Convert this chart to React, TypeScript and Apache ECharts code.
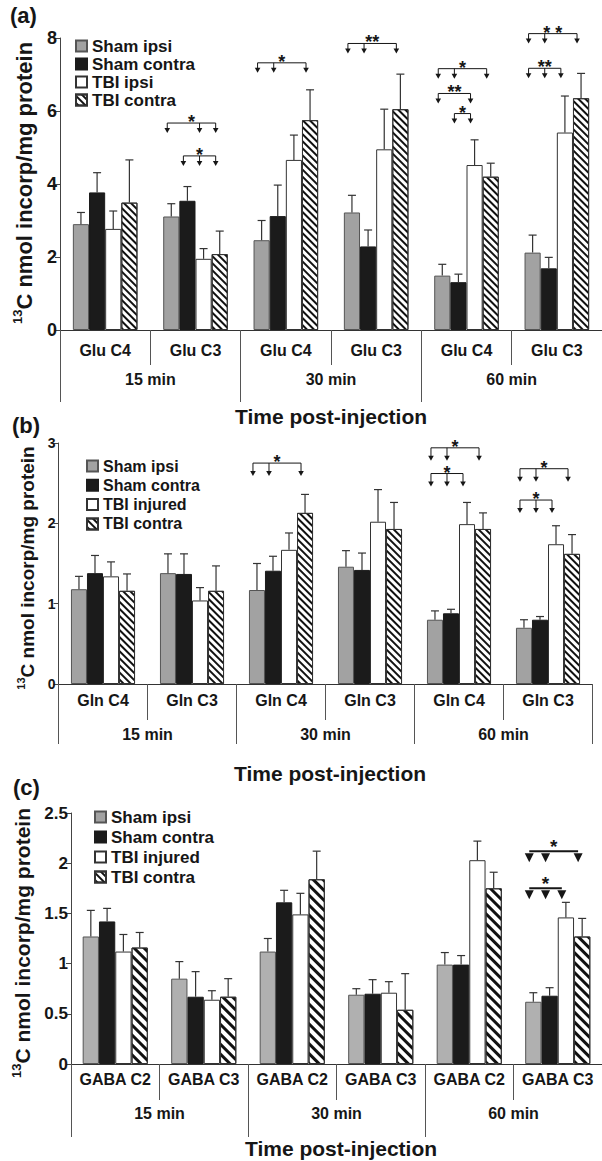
import React, { useEffect, useRef } from "react";
import * as echarts from "echarts";

const FONT = '"Liberation Sans", Arial, Helvetica, sans-serif';
const INK = "#161616";

// ---------- data ----------
const times = ["15 min", "30 min", "60 min"];

// Panel (a) glutamate
const catsA = ["Glu C4", "Glu C3", "Glu C4", "Glu C3", "Glu C4", "Glu C3"];
const legendA = ["Sham ipsi", "Sham contra", "TBI ipsi", "TBI contra"];
const shamIpsiA = [2.9, 3.11, 2.46, 3.22, 1.49, 2.12];
const shamIpsiErrA = [3.22, 3.46, 3.0, 3.69, 1.8, 2.6];
const shamContraA = [3.77, 3.54, 3.12, 2.29, 1.31, 1.69];
const shamContraErrA = [4.31, 3.93, 3.97, 2.74, 1.53, 1.99];
const tbiIpsiA = [2.77, 1.95, 4.66, 4.95, 4.52, 5.41];
const tbiIpsiErrA = [3.26, 2.23, 5.34, 6.05, 5.21, 6.41];
const tbiContraA = [3.49, 2.08, 5.75, 6.05, 4.2, 6.35];
const tbiContraErrA = [4.66, 2.71, 6.58, 7.01, 4.57, 7.03];
// [category, y, target bars, stars]
const bracketsA: [number, number, number[], string][] = [
  [1, 5.67, [0, 2, 3], "*"],
  [1, 4.77, [1, 2, 3], "*"],
  [2, 7.32, [0, 1, 3], "*"],
  [3, 7.85, [0, 1, 3], "**"],
  [4, 7.16, [0, 1, 3], "*"],
  [4, 6.48, [0, 2], "**"],
  [4, 5.93, [1, 2], "*"],
  [5, 8.12, [0, 1, 3], "* *"],
  [5, 7.17, [0, 1, 2], "**"],
];

// Panel (b) glutamine
const catsB = ["Gln C4", "Gln C3", "Gln C4", "Gln C3", "Gln C4", "Gln C3"];
const legendBC = ["Sham ipsi", "Sham contra", "TBI injured", "TBI contra"];
const shamIpsiB = [1.18, 1.38, 1.17, 1.46, 0.8, 0.7];
const shamIpsiErrB = [1.34, 1.62, 1.5, 1.66, 0.91, 0.8];
const shamContraB = [1.38, 1.37, 1.41, 1.42, 0.88, 0.8];
const shamContraErrB = [1.6, 1.62, 1.59, 1.63, 0.93, 0.84];
const tbiInjB = [1.34, 1.04, 1.67, 2.02, 1.99, 1.74];
const tbiInjErrB = [1.52, 1.2, 1.88, 2.42, 2.26, 1.97];
const tbiContraB = [1.16, 1.16, 2.13, 1.93, 1.93, 1.62];
const tbiContraErrB = [1.37, 1.47, 2.36, 2.26, 2.13, 1.86];
const bracketsB: [number, number, number[], string][] = [
  [2, 2.75, [0, 1, 3], "*"],
  [4, 2.94, [0, 1, 3], "*"],
  [4, 2.62, [0, 1, 2], "*"],
  [5, 2.68, [0, 1, 3], "*"],
  [5, 2.29, [0, 1, 2], "*"],
];

// Panel (c) GABA
const catsC = ["GABA C2", "GABA C3", "GABA C2", "GABA C3", "GABA C2", "GABA C3"];
const shamIpsiC = [1.27, 0.85, 1.12, 0.69, 0.99, 0.62];
const shamIpsiErrC = [1.53, 1.02, 1.25, 0.75, 1.11, 0.71];
const shamContraC = [1.42, 0.67, 1.61, 0.7, 0.99, 0.68];
const shamContraErrC = [1.55, 0.92, 1.73, 0.84, 1.08, 0.76];
const tbiInjC = [1.12, 0.64, 1.49, 0.71, 2.03, 1.46];
const tbiInjErrC = [1.29, 0.73, 1.7, 0.82, 2.22, 1.61];
const tbiContraC = [1.16, 0.67, 1.84, 0.54, 1.75, 1.27];
const tbiContraErrC = [1.31, 0.85, 2.12, 0.9, 1.91, 1.45];
const bracketsC: [number, number, number[], string][] = [
  [5, 2.12, [0, 1, 3], "*"],
  [5, 1.75, [0, 1, 2], "*"],
];

// ---------- layout / style ----------
const panels = [
  {
    cats: catsA, legend: legendA,
    values: [shamIpsiA, shamContraA, tbiIpsiA, tbiContraA],
    errs: [shamIpsiErrA, shamContraErrA, tbiIpsiErrA, tbiContraErrA],
    brackets: bracketsA,
    left: 60, top: 38, width: 548, height: 292, max: 8, interval: 2, gap: 0.285,
    innerTick: 35, outerTick: 72, labelMargin: 12, outerMargin: 41, catFont: 16,
    yFont: 18, grey: "#a2a2a2", hatch: [1.3, 2.3],
    lg: { left: 75, top: 37.5, font: 17, gap: 1 },
    bold: false, drop: 10, starFont: 18, starDy: -1,
    yName: { x: 24, y: 183, font: 22 }, tag: { text: "(a)", x: 10, y: 15 }, title: { x: 331, y: 416 },
  },
  {
    cats: catsB, legend: legendBC,
    values: [shamIpsiB, shamContraB, tbiInjB, tbiContraB],
    errs: [shamIpsiErrB, shamContraErrB, tbiInjErrB, tbiContraErrB],
    brackets: bracketsB,
    left: 58.5, top: 443, width: 534, height: 241, max: 3, interval: 1, gap: 0.28,
    innerTick: 36, outerTick: 60, labelMargin: 8, outerMargin: 42, catFont: 16,
    yFont: 14, grey: "#a2a2a2", hatch: [1.3, 2.3],
    lg: { left: 86, top: 458, font: 16, gap: 3.3 },
    bold: false, drop: 13, starFont: 18, starDy: -1,
    yName: { x: 27, y: 568, font: 19 }, tag: { text: "(b)", x: 12, y: 425 }, title: { x: 330, y: 773 },
  },
  {
    cats: catsC, legend: legendBC,
    values: [shamIpsiC, shamContraC, tbiInjC, tbiContraC],
    errs: [shamIpsiErrC, shamContraErrC, tbiInjErrC, tbiContraErrC],
    brackets: bracketsC,
    left: 71, top: 813, width: 532, height: 251, max: 2.5, interval: 0.5, gap: 0.264,
    innerTick: 36, outerTick: 73, labelMargin: 7, outerMargin: 41, catFont: 16,
    yFont: 17, grey: "#b0b0b0", hatch: [2.4, 3.6],
    lg: { left: 94, top: 808.5, font: 17, gap: 3 },
    bold: true, drop: 11, starFont: 19, starDy: -5,
    yName: { x: 22, y: 943, font: 21 }, tag: { text: "(c)", x: 13, y: 787 }, title: { x: 341, y: 1148 },
  },
];

function buildOption() {
  const grid: any[] = [];
  const xAxis: any[] = [];
  const yAxis: any[] = [];
  const series: any[] = [];
  const legend: any[] = [];
  const graphic: any[] = [];

  panels.forEach((p, pi) => {
    const xi = pi * 2;
    grid.push({ left: p.left, top: p.top, width: p.width, height: p.height, containLabel: false });
    const lbl = { fontSize: p.catFont, fontWeight: "bold", fontFamily: FONT, color: INK };
    xAxis.push({
      type: "category", gridIndex: pi, data: p.cats, position: "bottom", boundaryGap: true,
      axisLine: { show: true, lineStyle: { color: "#333", width: 1 } },
      axisTick: { show: true, interval: 0, length: p.innerTick, lineStyle: { color: "#555" } },
      axisLabel: { interval: 0, margin: p.labelMargin, ...lbl },
      splitLine: { show: false },
    });
    xAxis.push({
      type: "category", gridIndex: pi, data: times, position: "bottom", offset: 0, boundaryGap: true,
      axisLine: { show: false },
      axisTick: { show: true, interval: 0, length: p.outerTick, lineStyle: { color: "#555" } },
      axisLabel: { interval: 0, margin: p.outerMargin, ...lbl },
      splitLine: { show: false },
    });
    yAxis.push({
      type: "value", gridIndex: pi, min: 0, max: p.max, interval: p.interval,
      axisLine: { show: true, lineStyle: { color: "#444" } },
      axisTick: { show: true, length: 5, lineStyle: { color: "#444" } },
      splitLine: { show: false },
      axisLabel: { fontSize: p.yFont, fontWeight: "bold", fontFamily: FONT, color: INK, margin: 3 },
    });

    const styles = [
      { color: p.grey, borderColor: "#555", borderWidth: 1 },
      { color: "#1b1b1b", borderColor: "#1b1b1b", borderWidth: 1 },
      { color: "#ffffff", borderColor: "#333", borderWidth: 1 },
      {
        color: "#ffffff", borderColor: "#333", borderWidth: 1,
        decal: {
          symbol: "rect", symbolSize: 1, color: "#111",
          dashArrayX: [1, 0], dashArrayY: p.hatch, rotation: Math.PI / 4,
        },
      },
    ];
    const pct = Math.round(p.gap * 1000) / 10 + "%";
    p.values.forEach((vals, k) => {
      series.push({
        type: "bar", name: p.legend[k], xAxisIndex: xi, yAxisIndex: pi, data: vals,
        barGap: "0%", barCategoryGap: pct, itemStyle: styles[k], silent: true,
        emphasis: { disabled: true }, z: 2,
      });
    });
    // error bars
    p.errs.forEach((errs, k) => {
      series.push({
        type: "custom", xAxisIndex: xi, yAxisIndex: pi, silent: true, z: 3,
        data: errs.map((e, i) => [i, p.values[k][i], e]),
        encode: { x: 0, y: [1, 2] },
        renderItem: (params: any, api: any) => {
          const cat = api.value(0);
          const p0 = api.coord([cat, api.value(1)]);
          const p1 = api.coord([cat, api.value(2)]);
          const band = api.size([1, 0])[0];
          const bw = (band * (1 - p.gap)) / 4;
          const x = p0[0] - 2 * bw + (k + 0.5) * bw;
          const st = { stroke: "#333", lineWidth: 1.2 };
          return {
            type: "group",
            children: [
              { type: "line", shape: { x1: x, y1: p0[1], x2: x, y2: p1[1] }, style: st },
              { type: "line", shape: { x1: x - 4, y1: p1[1], x2: x + 4, y2: p1[1] }, style: st },
            ],
          };
        },
      });
    });
    // significance brackets
    series.push({
      type: "custom", xAxisIndex: xi, yAxisIndex: pi, silent: true, z: 4, clip: false,
      data: p.brackets.map((b) => [b[0], b[1]]),
      encode: { x: 0, y: 1 },
      renderItem: (params: any, api: any) => {
        const b = p.brackets[params.dataIndex];
        const c = api.coord([api.value(0), api.value(1)]);
        const band = api.size([1, 0])[0];
        const bw = (band * (1 - p.gap)) / 4;
        const xs = b[2].map((t) => c[0] - 2 * bw + (t + 0.5) * bw - bw * 0.25);
        const y = c[1];
        const children: any[] = [
          {
            type: "line",
            shape: { x1: xs[0], y1: y, x2: xs[xs.length - 1], y2: y },
            style: { stroke: INK, lineWidth: p.bold ? 2 : 1 },
          },
        ];
        xs.forEach((x) => {
          if (p.bold) {
            children.push({
              type: "polygon",
              shape: { points: [[x - 4.5, y + 2], [x + 4.5, y + 2], [x, y + p.drop]] },
              style: { fill: INK },
            });
          } else {
            children.push({
              type: "line",
              shape: { x1: x, y1: y, x2: x, y2: y + p.drop - 4 },
              style: { stroke: INK, lineWidth: 1 },
            });
            children.push({
              type: "polygon",
              shape: { points: [[x - 2.8, y + p.drop - 5], [x + 2.8, y + p.drop - 5], [x, y + p.drop]] },
              style: { fill: INK },
            });
          }
        });
        children.push({
          type: "text",
          x: (xs[0] + xs[xs.length - 1]) / 2,
          y: y + p.starDy,
          style: {
            text: b[3], font: `bold ${p.starFont}px ${FONT}`, fill: INK,
            align: "center", verticalAlign: "middle",
          },
        });
        return { type: "group", children };
      },
    });

    legend.push({
      data: p.legend, orient: "vertical", left: p.lg.left, top: p.lg.top,
      itemWidth: 11, itemHeight: 11, itemGap: p.lg.gap, icon: "rect", selectedMode: false,
      padding: 0,
      textStyle: { fontSize: p.lg.font, lineHeight: p.lg.font, fontWeight: "bold", fontFamily: FONT, color: INK },
    });

    graphic.push({
      type: "text", x: p.yName.x, y: p.yName.y, rotation: Math.PI / 2,
      style: {
        text: "{s|13}{m|C nmol incorp/mg protein}",
        align: "center", verticalAlign: "middle", fill: INK,
        rich: {
          s: {
            fontSize: Math.round(p.yName.font * 0.6), fontWeight: "bold", fontFamily: FONT,
            verticalAlign: "top", fill: INK, lineHeight: p.yName.font + 4,
          },
          m: {
            fontSize: p.yName.font, fontWeight: "bold", fontFamily: FONT, fill: INK,
            lineHeight: p.yName.font + 4,
          },
        },
      },
    });
    graphic.push({
      type: "text", x: p.tag.x, y: p.tag.y,
      style: { text: p.tag.text, font: `bold 22px ${FONT}`, fill: INK, align: "left", verticalAlign: "middle" },
    });
    graphic.push({
      type: "text", x: p.title.x, y: p.title.y,
      style: { text: "Time post-injection", font: `bold 21px ${FONT}`, fill: INK, align: "center", verticalAlign: "middle" },
    });
  });

  return {
    animation: false,
    backgroundColor: "#ffffff",
    grid, xAxis, yAxis, series, legend, graphic,
  };
}

export default function App() {
  const ref = useRef<HTMLDivElement>(null);
  useEffect(() => {
    document.body.style.margin = "0";
    const chart = echarts.init(ref.current!, null, { renderer: "svg", width: 602, height: 1161 });
    chart.setOption(buildOption() as any);
    return () => chart.dispose();
  }, []);
  return (
    <div
      ref={ref}
      style={{ position: "absolute", left: 0, top: 0, width: 602, height: 1161, overflow: "hidden" }}
    />
  );
}
